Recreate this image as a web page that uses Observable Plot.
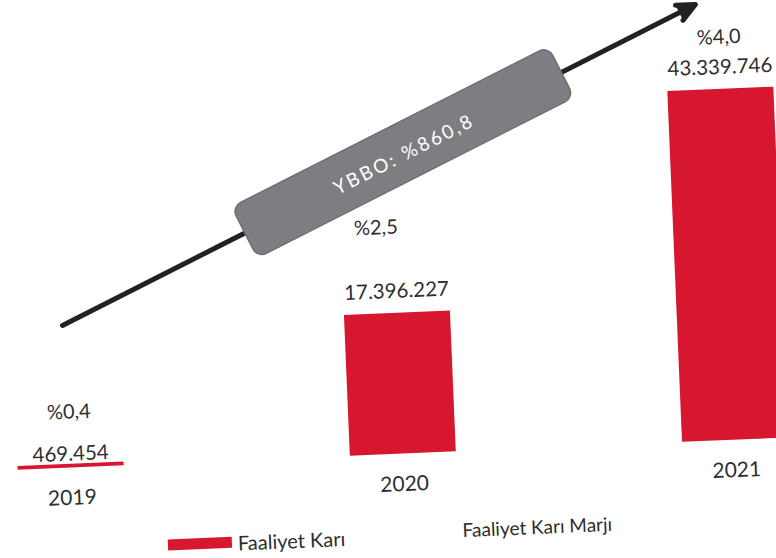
<!DOCTYPE html>
<html>
<head>
<meta charset="utf-8">
<script src="https://cdn.jsdelivr.net/npm/d3@7"></script>
<script src="https://cdn.jsdelivr.net/npm/@observablehq/plot@0.6"></script>
<style>
  html, body { margin: 0; padding: 0; background: #fff; width: 776px; height: 558px; overflow: hidden; }
  #chart { width: 776px; height: 558px; transform: rotate(-2.4deg); transform-origin: 388px 279px; font-family: Lato, "Open Sans", sans-serif; color: #2e2e2e; }
  #legend { position: relative; height: 24px; margin-top: 9px; font-size: 19px; }
  #legend .sw { position: absolute; left: 157px; top: 6px; width: 64px; height: 11px; background: #d7172f; }
  #legend .t1 { position: absolute; left: 227px; top: 0; line-height: 24px; font-size: 20px; }
  #legend .t2 { position: absolute; left: 452px; top: -3px; line-height: 24px; }
</style>
</head>
<body>
<div id="chart"></div>
<script>
// ---- data ----
const years = ["2019", "2020", "2021"];
const operatingProfit = [469454, 17396227, 43339746];
const valueLabels = ["469.454", "17.396.227", "43.339.746"];
const marginLabels = ["%0,4", "%2,5", "%4,0"];
const cagrLabel = "YBBO: %860,8";
const legendLabels = ["Faaliyet Karı", "Faaliyet Karı Marjı"];
// trend arrow drawn in data space (from 2019 to 2021)
const trend = [{from: "2019", to: "2021", y1: 17.77e6, y2: 55.16e6}];

const rows = years.map((year, i) => ({year, value: operatingProfit[i], label: valueLabels[i], margin: marginLabels[i]}));

const RED = "#d7172f";
const TEXT = "#2e2e2e";

function resistor(index, scales) {
  const sx = scales.x, sy = scales.y;
  const bw = sx.bandwidth ? sx.bandwidth() / 2 : 0;
  const a = trend[0];
  const x1 = sx(a.from) + bw, y1 = sy(a.y1), x2 = sx(a.to) + bw, y2 = sy(a.y2);
  const t = 0.519;
  const cx = x1 + (x2 - x1) * t, cy = y1 + (y2 - y1) * t;
  const angle = Math.atan2(y2 - y1, x2 - x1) * 180 / Math.PI;
  const L = 355, W = 57;
  const g = d3.create("svg:g").attr("transform", `translate(${cx},${cy}) rotate(${angle})`);
  g.append("rect").attr("x", -L / 2).attr("y", -W / 2).attr("width", L).attr("height", W)
    .attr("rx", 10).attr("fill", "#7e7e82").attr("stroke", "#707074").attr("stroke-width", 1.5);
  g.append("text").attr("x", 0).attr("y", 4).attr("text-anchor", "middle").attr("dominant-baseline", "middle")
    .attr("fill", "#fff").attr("font-size", 19).attr("letter-spacing", 2.5).text(cagrLabel);
  return g.node();
}

const plot = Plot.plot({
  width: 776,
  height: 515,
  marginTop: 0,
  marginBottom: 61,
  marginLeft: 0,
  marginRight: 0,
  style: {fontFamily: "Lato, 'Open Sans', sans-serif", fontSize: "21px", color: TEXT, background: "#fff", overflow: "visible"},
  x: {type: "band", domain: years, range: [10, 781], paddingInner: 0.681, paddingOuter: 0, round: false,
      axis: "bottom", tickSize: 0, tickPadding: 22, label: null},
  y: {domain: [0, 56.05e6], axis: null},
  marks: [
    Plot.barY(rows, {x: "year", y: "value", fill: RED}),
    Plot.text(rows.filter(d => d.year !== "2019"), {x: "year", y: "value", text: "label", dy: -22, fill: TEXT, fontSize: 20.5}),
    Plot.text(rows.filter(d => d.year === "2019"), {x: "year", y: "value", text: "label", dy: -10, fill: TEXT, fontSize: 20.5}),
    Plot.text(rows.filter(d => d.year !== "2020"), {x: "year", y: "value", text: "margin", dy: -52, fill: TEXT, fontSize: 20}),
    Plot.text(rows.filter(d => d.year === "2020"), {x: "year", y: "value", text: "margin", dy: -86, dx: -18, fill: TEXT, fontSize: 20}),
    Plot.arrow(trend, {x1: "from", y1: "y1", x2: "to", y2: "y2", stroke: "#222", fill: "#222", strokeWidth: 5,
      headLength: 6, headAngle: 50, insetStart: -3, insetEnd: 24}),
    resistor
  ]
});

const chart = document.getElementById("chart");
chart.appendChild(plot);
const legend = document.createElement("div");
legend.id = "legend";
legend.innerHTML = `<span class="sw"></span><span class="t1">${legendLabels[0]}</span><span class="t2">${legendLabels[1]}</span>`;
chart.appendChild(legend);
</script>
</body>
</html>
